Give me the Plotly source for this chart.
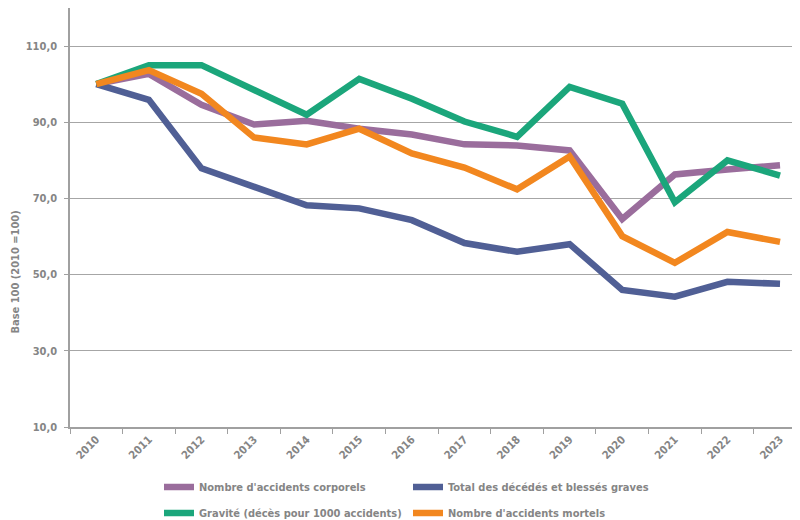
import plotly.graph_objects as go

years = [str(y) for y in range(2010, 2024)]

corporels = [100, 102.7, 94.6, 89.4, 90.4, 88.3, 86.8, 84.2, 83.9, 82.6, 64.6, 76.3, 77.6, 78.7]
total_dbg = [100, 95.9, 77.9, 73.2, 68.2, 67.4, 64.3, 58.3, 56.0, 58.0, 46.0, 44.2, 48.1, 47.6]
gravite = [100, 105.0, 105.0, 98.3, 92.0, 101.4, 96.2, 90.2, 86.2, 99.3, 94.9, 69.0, 80.0, 76.0]
mortels = [100, 103.7, 97.5, 86.0, 84.2, 88.3, 81.8, 78.1, 72.4, 81.0, 60.1, 53.1, 61.2, 58.6]

names = ["Nombre d'accidents corporels", "Total des décédés et blessés graves",
         "Gravité (décès pour 1000 accidents)", "Nombre d'accidents mortels"]
colors = ["#9a6d9c", "#505f95", "#1ba67b", "#f2871f"]
series = [corporels, total_dbg, gravite, mortels]
legend_ids = ["legend", "legend", "legend2", "legend2"]

FONT = "DejaVu Sans Condensed, DejaVu Sans, sans-serif"
GREY = "#858585"
W, H = 792, 512


def f(size):
    return dict(family=FONT, size=size, color=GREY, weight="bold")


fig = go.Figure()
for name, col, vals, lg in zip(names, colors, series, legend_ids):
    fig.add_trace(go.Scatter(x=years, y=vals, name=name, mode="lines", legend=lg,
                             line=dict(color=col, width=6.5)))

legend_common = dict(orientation="h", xref="container", yref="container",
                     xanchor="left", yanchor="middle",
                     entrywidth=204, entrywidthmode="pixels",
                     itemwidth=30, font=f(11), bgcolor="rgba(0,0,0,0)")

fig.update_layout(
    width=W, height=H,
    paper_bgcolor="white", plot_bgcolor="white",
    margin=dict(l=62, r=0, t=0, b=93, autoexpand=False),
    font=f(12),
    separators=", ",
    showlegend=True,
    legend=dict(x=151 / W, y=1 - (487 - 8) / H, **legend_common),
    legend2=dict(x=151 / W, y=1 - (513 - 8) / H, **legend_common),
    xaxis=dict(type="category", range=[-0.5, 13.38], automargin=False,
               showline=True, linecolor="#a0a0a0", linewidth=1.5,
               ticks="outside", tickson="boundaries", ticklen=5, tickcolor="#a0a0a0",
               tickangle=-45, showgrid=False,
               tickfont=f(11)),
    yaxis=dict(range=[10, 120], tickvals=[10, 30, 50, 70, 90, 110], automargin=False,
               tickformat=".1f", showgrid=True, gridcolor="#a6a6a6", gridwidth=1,
               showline=True, linecolor="#a0a0a0", linewidth=1.5,
               ticks="outside", ticklen=4, tickcolor="#a0a0a0",
               ticklabelstandoff=5,
               zeroline=False,
               tickfont=f(11)),
    annotations=[dict(text="Base 100 (2010 =100)", xref="paper", yref="paper",
                      x=-0.0745, y=0.37, xanchor="center", yanchor="middle",
                      textangle=-90, showarrow=False,
                      font=f(11))],
)

fig.write_html("out.html")
